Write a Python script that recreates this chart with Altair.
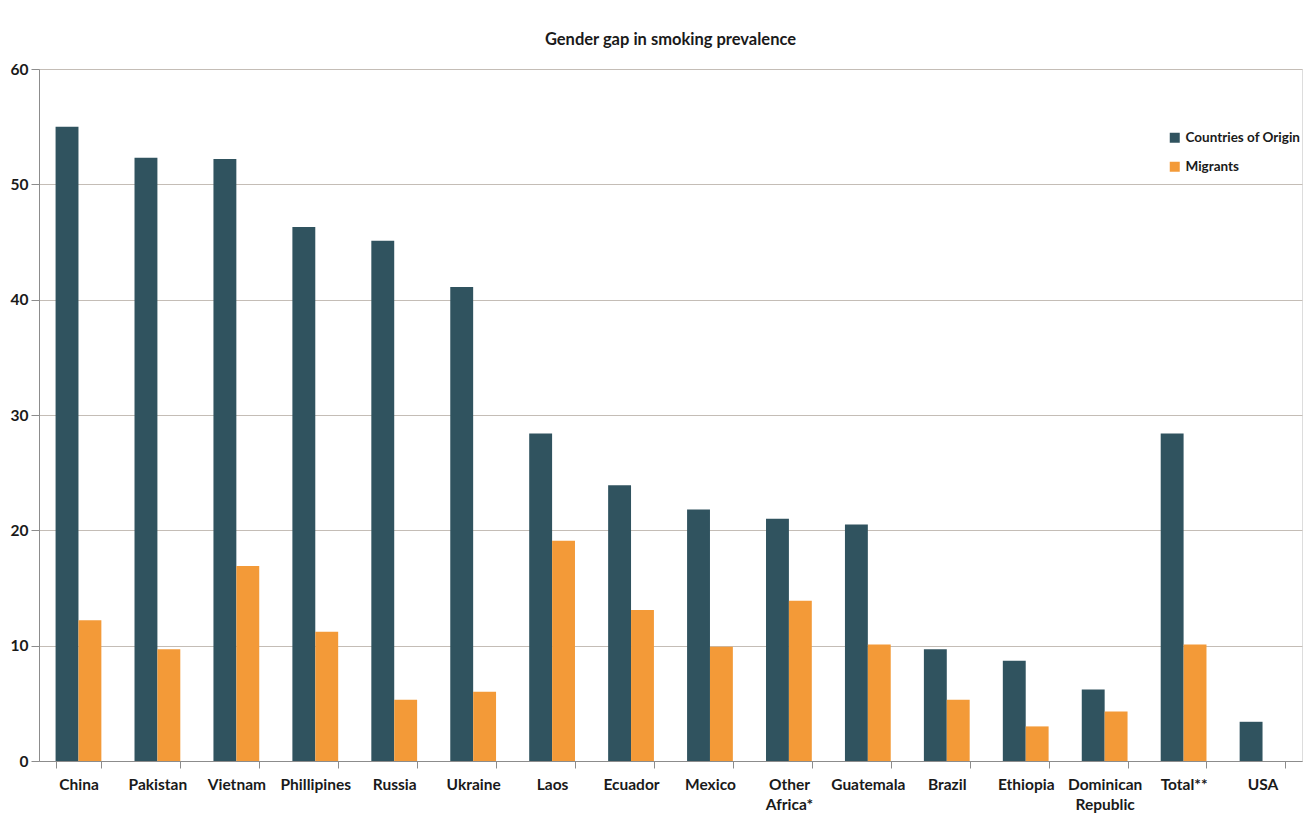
import altair as alt
import pandas as pd

# Gender gap (male minus female smoking prevalence, percentage points)
countries = [
    "China", "Pakistan", "Vietnam", "Phillipines", "Russia", "Ukraine", "Laos",
    "Ecuador", "Mexico", "Other Africa*", "Guatemala", "Brazil", "Ethiopia",
    "Dominican Republic", "Total**", "USA",
]
origin_gap = [55.0, 52.3, 52.2, 46.3, 45.1, 41.1, 28.4, 23.9, 21.8, 21.0,
              20.5, 9.7, 8.7, 6.2, 28.4, 3.4]
migrant_gap = [12.2, 9.7, 16.9, 11.2, 5.3, 6.0, 19.1, 13.1, 9.9, 13.9,
               10.1, 5.3, 3.0, 4.3, 10.1, None]

series_names = ["Countries of Origin", "Migrants"]
series_colors = ["#30535F", "#F39A38"]
y_ticks = [0, 10, 20, 30, 40, 50, 60]

rows = []
for c, o, m in zip(countries, origin_gap, migrant_gap):
    rows.append({"country": c, "group": series_names[0], "gap": o})
    if m is not None:
        rows.append({"country": c, "group": series_names[1], "gap": m})
df = pd.DataFrame(rows)

FONT = "Lato"

chart = (
    alt.Chart(df, title=alt.Title(
        "Gender gap in smoking prevalence",
        fontSize=16.5, font=FONT, fontWeight="bold", color="#1a1a1a",
        anchor="middle", offset=14,
    ))
    .mark_bar()
    .encode(
        x=alt.X(
            "country:N", sort=countries, title=None,
            scale=alt.Scale(paddingInner=0.42, paddingOuter=0.21),
            axis=alt.Axis(
                labelAngle=0, labelFontSize=15.5, labelFont=FONT, labelFontWeight="bold",
                labelColor="#1a1a1a",
                labelExpr="datum.value ? split(datum.value, ' ') : ''",
                labelLineHeight=20, labelPadding=9, tickBand="extent",
                tickSize=7, tickColor="#8c8c8c", domainColor="#8c8c8c", grid=False,
            ),
        ),
        xOffset=alt.XOffset("group:N", scale=alt.Scale(domain=series_names)),
        y=alt.Y(
            "gap:Q", title=None,
            scale=alt.Scale(domain=[0, 60], nice=False),
            axis=alt.Axis(
                values=y_ticks, labelFontSize=15.5, labelFont=FONT, labelFontWeight="bold",
                labelColor="#1a1a1a", tickSize=8, tickColor="#8c8c8c",
                domainColor="#8c8c8c", gridColor="#c4bdb6", labelPadding=3,
            ),
        ),
        color=alt.Color(
            "group:N",
            scale=alt.Scale(domain=series_names, range=series_colors),
            legend=alt.Legend(
                title=None, orient="none", legendX=1129, legendY=62,
                symbolType="square", symbolSize=100, symbolStrokeWidth=0,
                labelFontSize=13.5, labelFont=FONT, labelFontWeight="bold",
                labelColor="#1a1a1a", rowPadding=14, labelOffset=4,
            ),
        ),
    )
    .properties(width=1263, height=692)
    .configure_view(stroke=None)
    .configure(background="white", padding={"left": 39, "top": 69, "right": 8, "bottom": 53},
               autosize=alt.AutoSizeParams(type="none"))
)

chart.save("out.html", embed_options={"renderer": "svg", "actions": False})
